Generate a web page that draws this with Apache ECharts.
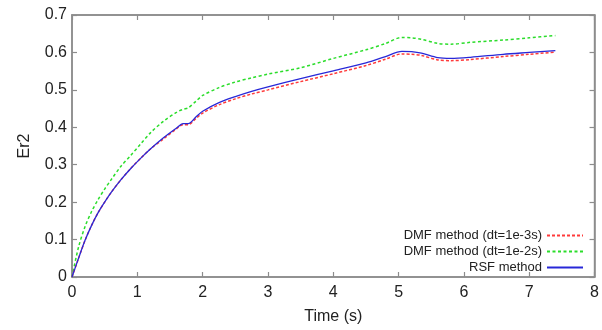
<!DOCTYPE html>
<html><head><meta charset="utf-8">
<script src="https://cdn.jsdelivr.net/npm/echarts@6/dist/echarts.min.js"></script>
<style>html,body{margin:0;padding:0;background:#fff}#c{width:602px;height:330px}</style>
</head><body><div id="c"></div>
<script>
var time = [0, 0.1, 0.2, 0.3, 0.4, 0.5, 0.6, 0.75, 0.9, 1.05, 1.2, 1.4, 1.6, 1.7, 1.78, 1.9, 2.0, 2.25, 2.5, 2.75, 3.0, 3.5, 4.0, 4.5, 4.8, 5.05, 5.2, 5.35, 5.6, 5.8, 6.1, 6.6, 7.0, 7.4];
var dmf3 = [0, 0.05, 0.098, 0.138, 0.172, 0.2, 0.226, 0.26, 0.29, 0.317, 0.342, 0.369, 0.396, 0.407, 0.407, 0.424, 0.438, 0.46, 0.476, 0.489, 0.5, 0.522, 0.543, 0.565, 0.582, 0.596, 0.595, 0.592, 0.58, 0.578, 0.581, 0.589, 0.595, 0.601];
var dmf2 = [0, 0.08, 0.135, 0.175, 0.207, 0.235, 0.26, 0.296, 0.325, 0.355, 0.385, 0.416, 0.44, 0.448, 0.452, 0.47, 0.485, 0.506, 0.521, 0.532, 0.542, 0.559, 0.584, 0.607, 0.624, 0.64, 0.639, 0.635, 0.624, 0.622, 0.627, 0.633, 0.639, 0.645];
var rsf  = [0, 0.05, 0.098, 0.138, 0.172, 0.2, 0.226, 0.26, 0.29, 0.317, 0.342, 0.372, 0.398, 0.41, 0.41, 0.428, 0.443, 0.466, 0.482, 0.496, 0.508, 0.53, 0.551, 0.572, 0.589, 0.603, 0.602, 0.598, 0.586, 0.584, 0.587, 0.595, 0.6, 0.605];
var names = ['DMF method (dt=1e-3s)', 'DMF method (dt=1e-2s)', 'RSF method'];

function pairs(v){ return time.map(function(t,i){ return [t, v[i]]; }); }
var axisCol = '#8c8c8c';
var font = 'Liberation Sans, Arial, sans-serif';
function tick(){ return {show:true, inside:true, length:5, lineStyle:{color:axisCol, width:1.2}}; }
function line(){ return {show:true, onZero:false, lineStyle:{color:axisCol, width:1.5}}; }
var chart = echarts.init(document.getElementById('c'), null, {renderer:'canvas'});
chart.setOption({
  animation:false,
  grid:{left:72, right:4, top:15, bottom:52, show:true, borderColor:axisCol, borderWidth:1.5},
  legend:{
    orient:'vertical', right:13, top:224, align:'right',
    itemWidth:36, itemHeight:14, itemGap:3,
    itemStyle:{opacity:0},
    textStyle:{fontFamily:font, fontSize:13, color:'#222'},
    data:names
  },
  xAxis:[{
    type:'value', min:0, max:8, interval:1, name:'Time (s)', nameLocation:'middle', nameGap:32,
    nameMoveOverlap:false,
    nameTextStyle:{fontFamily:font, fontSize:16, color:'#222'},
    axisLine:line(), axisTick:tick(),
    axisLabel:{fontFamily:font, fontSize:16, color:'#222', margin:8},
    splitLine:{show:false}
  },{
    type:'value', position:'top', min:0, max:8, interval:1,
    axisLine:line(), axisTick:tick(),
    axisLabel:{show:false}, splitLine:{show:false}
  }],
  yAxis:[{
    type:'value', min:0, max:0.7, interval:0.1, name:'Er2', nameLocation:'middle', nameGap:39,
    nameMoveOverlap:false,
    nameTextStyle:{fontFamily:font, fontSize:16, color:'#222'},
    axisLine:line(), axisTick:tick(),
    axisLabel:{fontFamily:font, fontSize:16, color:'#222', margin:5},
    splitLine:{show:false}
  },{
    type:'value', position:'right', min:0, max:0.7, interval:0.1,
    axisLine:line(), axisTick:tick(),
    axisLabel:{show:false}, splitLine:{show:false}
  }],
  series:[
    {name:names[0], type:'line', data:pairs(dmf3), symbol:'none', smooth:0.3, z:3,
     lineStyle:{color:'#ff3b3b', width:1.5, type:[3,2]}, itemStyle:{color:'#ff3b3b'}},
    {name:names[1], type:'line', data:pairs(dmf2), symbol:'none', smooth:0.3, z:2,
     lineStyle:{color:'#2bdd2b', width:1.5, type:[3,2.5]}, itemStyle:{color:'#2bdd2b'}},
    {name:names[2], type:'line', data:pairs(rsf), symbol:'none', smooth:0.3, z:4,
     lineStyle:{color:'#2828d8', width:1.3}, itemStyle:{color:'#2828d8'}},
    {name:'frame', type:'line', xAxisIndex:1, yAxisIndex:1, data:[], symbol:'none', silent:true}
  ]
});
</script></body></html>
